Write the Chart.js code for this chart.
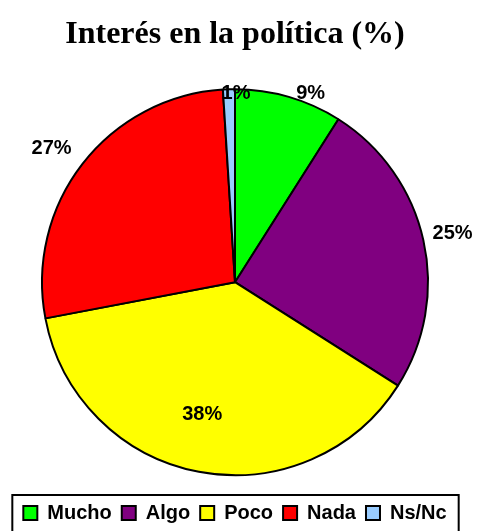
<!DOCTYPE html>
<html>
<head>
<meta charset="utf-8">
<script src="https://cdn.jsdelivr.net/npm/chart.js@4"></script>
<style>
  html, body { margin: 0; padding: 0; background: #fff; }
  #wrap { width: 477px; height: 531px; position: relative; }
</style>
</head>
<body>
<div id="wrap"><canvas id="canvas"></canvas></div>
<script>
// datos
let categorias = ['Mucho', 'Algo', 'Poco', 'Nada', 'Ns/Nc'];
let valores = [9, 25, 38, 27, 1];
let colores = ['#00FF00', '#800080', '#FFFF00', '#FF0000', '#99CCFF'];

// posicion de las etiquetas (factor de radio y desvio en grados)
let radioEtiqueta = [1.055, 1.155, 0.708, 1.176, 0.98];
let desvioEtiqueta = [5.6, 0, 3.1, -1.7, 2.1];

const etiquetas = {
  id: 'etiquetas',
  afterDatasetsDraw(chart) {
    const ctx = chart.ctx;
    const arcs = chart.getDatasetMeta(0).data;
    ctx.save();
    ctx.font = 'bold 20px "Liberation Sans", Arial, sans-serif';
    ctx.fillStyle = '#000';
    ctx.textAlign = 'center';
    ctx.textBaseline = 'middle';
    arcs.forEach((arc, i) => {
      const mid = (arc.startAngle + arc.endAngle) / 2 + desvioEtiqueta[i] * Math.PI / 180;
      const r = arc.outerRadius * radioEtiqueta[i];
      ctx.fillText(valores[i] + '%', arc.x + Math.cos(mid) * r, arc.y + Math.sin(mid) * r);
    });
    ctx.restore();
  }
};

const marcoLeyenda = {
  id: 'marcoLeyenda',
  afterDraw(chart) {
    const boxes = chart.legend.legendHitBoxes;
    if (!boxes || !boxes.length) return;
    const ctx = chart.ctx;
    const left = boxes[0].left - 11;
    const last = boxes[boxes.length - 1];
    const right = last.left + last.width + 12;
    const top = boxes[0].top - 8;
    ctx.save();
    ctx.strokeStyle = '#000';
    ctx.lineWidth = 2;
    ctx.strokeRect(left, top, right - left, chart.height - top + 10);
    ctx.restore();
  }
};

window.onload = function(){
  var ctx = document.getElementById('canvas');
  new Chart(ctx, {
    type: 'pie',
    data: {
      labels: categorias,
      datasets: [{
        data: valores,
        backgroundColor: colores,
        borderColor: '#000',
        borderWidth: 2,
        radius: 193
      }]
    },
    options: {
      responsive: true,
      maintainAspectRatio: false,
      animation: false,
      events: [],
      layout: { padding: { top: 0, bottom: -2, left: 0, right: 7 } },
      plugins: {
        title: {
          display: true,
          text: 'Interés en la política (%)',
          color: '#000',
          font: { family: '"Liberation Serif", "Times New Roman", serif', size: 32, weight: 'bold' },
          padding: { top: 16, bottom: 17 }
        },
        legend: {
          position: 'bottom',
          labels: {
            color: '#000',
            font: { family: '"Liberation Sans", Arial, sans-serif', size: 20, weight: 'bold' },
            boxWidth: 14,
            boxHeight: 14,
            padding: 10,
            generateLabels(chart) {
              return categorias.map((c, i) => ({
                text: c,
                fillStyle: colores[i],
                strokeStyle: '#000',
                lineWidth: 2,
                index: i
              }));
            }
          }
        },
        tooltip: { enabled: false }
      }
    },
    plugins: [etiquetas, marcoLeyenda]
  });
};
</script>
</body>
</html>
